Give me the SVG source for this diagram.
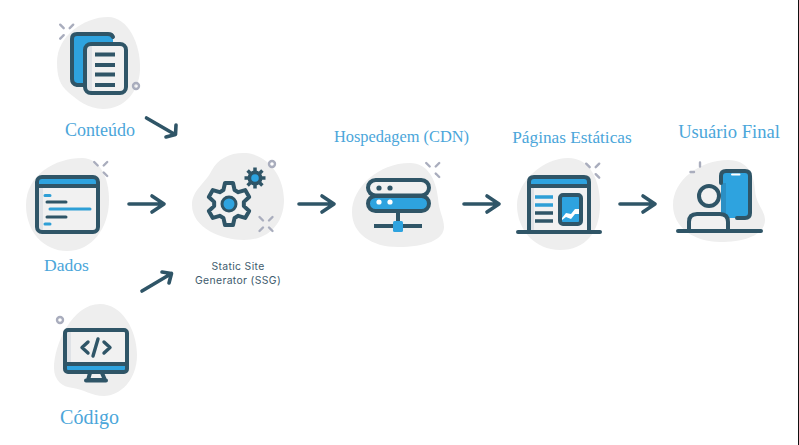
<svg xmlns="http://www.w3.org/2000/svg" width="799" height="445" viewBox="0 0 799 445">
<style>
.blob{fill:#eeeeee}
.d{fill:none;stroke:#2f5567;stroke-width:4;stroke-linecap:round;stroke-linejoin:round}
.fb{fill:#2ea3df}
.fl{fill:#f1f1f1}
.sh{fill:#dfe2e6}
.bl{fill:none;stroke:#2e9fd6;stroke-width:3;stroke-linecap:round}
.dl{fill:none;stroke:#2f5567;stroke-width:3;stroke-linecap:round}
.sp{fill:none;stroke:#a9adbd;stroke-width:2.4;stroke-linecap:round}
.ring{fill:none;stroke:#a9adbd;stroke-width:2.4}
.lab{font-family:"Liberation Serif",serif;fill:#4ba6da;text-anchor:middle}
.ssg{font-family:Inter,"Liberation Sans",sans-serif;font-size:10.400px;letter-spacing:.35px;fill:#3d5a6c;text-anchor:middle}
.arrow{fill:none;stroke:#2f5567;stroke-width:3.600;stroke-linecap:round;stroke-linejoin:round}
</style>
<defs>
<path id="sTL" d="M-3-3.500L-6.500-7"/><path id="sTR" d="M3-3.500L6.500-7"/><path id="sBL" d="M-3 3.500L-6.500 7"/><path id="sBR" d="M3 3.500L6.500 7"/>
<path id="ah" d="M0 0H35M23-8L35 0L23 8"/>
</defs>
<rect x="798" y="0" width="1" height="445" fill="#111"/>
<g id="conteudo">
<path class="blob" d="M57 62C57 36 84 17 108 17C128 17 141 44 140 70C139 92 124 109 103 109C88 109 76 99 68 92C60 85 57 77 57 62Z"/>
<g class="sp" transform="translate(66.700 31.700)"><use href="#sTL"/><use href="#sTR"/><use href="#sBL"/></g>
<circle class="ring" cx="136" cy="86" r="3"/>
<path class="fb" d="M72 39Q72 34 77 34H108Q113 34 113 39V84H77Q72 84 72 79Z"/>
<path class="d" d="M113 37Q112 34 108 34H77Q72 34 72 39V79Q72 84 77 85H84"/>
<rect class="fl" x="85" y="44" width="41" height="49" rx="6"/>
<rect class="sh" x="86" y="45" width="6" height="47"/>
<rect x="85" y="44" width="41" height="49" rx="6" class="d"/>
<path class="dl" style="stroke-linecap:butt;stroke-width:4" d="M95 54.500H115M95 65H115M95 74.500H115M95 85H115"/>
<text class="lab" x="100" y="136" font-size="18">Conteúdo</text>
</g>
<g id="dados">
<path class="blob" d="M26 205C26 175 55 158 82 158C100 158 109 178 109 200C109 228 92 251 67 251C44 251 26 232 26 205Z"/>
<g class="sp" transform="translate(100.700 169)"><use href="#sTL"/><use href="#sTR"/><use href="#sBR"/></g>
<rect class="fl" x="37" y="177" width="61" height="55" rx="5"/>
<rect class="sh" x="38" y="186" width="5" height="45"/>
<path class="fb" d="M38 186V183Q38 178 43 178H92Q97 178 97 183V186Z"/>
<rect class="d" x="37" y="177" width="61" height="55" rx="5"/>
<path class="dl" style="stroke-width:4" d="M38 186H97"/>
<path class="bl" d="M45 195.500H50M50 209H90M45 224H50"/>
<path class="dl" d="M47 202H66M47 217H66"/>
<text class="lab" x="66.500" y="270.500" font-size="17.600">Dados</text>
</g>
<g id="codigo">
<path class="blob" d="M54 368C54 345 72 304 100 304C122 304 137 330 137 355C137 380 120 396 104 396C92 396 83 389 73 388C62 387 54 380 54 368Z"/>
<circle class="ring" cx="60" cy="320" r="3"/>
<path class="fl" d="M90 372H102L105 379H87Z"/>
<path class="d" d="M90 373L88 380H105L102 373M86 380.500H106"/>
<rect class="fl" x="65" y="330" width="62" height="42" rx="3"/>
<rect class="sh" x="66" y="331" width="5" height="33"/>
<rect class="fb" x="65" y="364" width="62" height="8"/>
<rect class="d" x="65" y="330" width="62" height="42" rx="3"/>
<path class="d" d="M65.500 364H126.500"/>
<path class="d" style="stroke-width:3.400" d="M88 342L82 347.500L88 353M104 342L110 347.500L104 353M98 339L93 356"/>
<text class="lab" x="89.500" y="423.500" font-size="20">Código</text>
</g>
<g id="ssg">
<path class="blob" d="M192 205C192 190 205 184 212 170C218 158 232 152 246 153C268 155 284 176 284 200C284 222 270 240 244 240C222 240 192 228 192 205Z"/>
<circle class="ring" cx="272" cy="164" r="3"/>
<g class="sp" transform="translate(266 224)"><use href="#sTL"/><use href="#sTR"/><use href="#sBL"/><use href="#sBR"/></g>
<path class="d" style="fill:#f1f1f1" transform="translate(229 204)" d="M-5.600-13.900L-4-21H4L5.600-13.900L9.240-11.800L16.190-13.960L20.190-7.040L14.840-2.100V2.100L20.190 7.040L16.190 13.960L9.240 11.800L5.600 13.900L4 21H-4L-5.600 13.900L-9.240 11.800L-16.190 13.960L-20.190 7.040L-14.840 2.100V-2.100L-20.190-7.040L-16.190-13.960L-9.240-11.800Z"/>
<circle cx="229" cy="204" r="7" class="fb" stroke="#2f5567" stroke-width="3"/>
<g transform="translate(255 178)">
<circle r="7.500" fill="#2f5567"/>
<path d="M0-10.500V10.500M-10.500 0H10.500M-7.400-7.400L7.400 7.400M-7.400 7.400L7.400-7.400" stroke="#2f5567" stroke-width="3.500" fill="none"/>
<circle r="3.800" class="fb"/>
</g>
<text class="ssg" x="238" y="270">Static Site</text>
<text class="ssg" x="238" y="284">Generator (SSG)</text>
</g>
<g id="hospedagem">
<path class="blob" d="M352 212C352 188 378 163 410 163C428 163 436 180 438 198C439 212 444 218 444 227C444 240 425 247 398 247C372 247 352 234 352 212Z"/>
<g class="sp" transform="translate(432.700 170)"><use href="#sTL"/><use href="#sTR"/><use href="#sBR"/></g>
<rect class="fl" x="368" y="180" width="61" height="15.500" rx="7.700" stroke="#2f5567" stroke-width="4"/>
<rect class="fb" x="368" y="196" width="61" height="15" rx="7.500" stroke="#2f5567" stroke-width="4"/>
<circle cx="379" cy="188" r="2.600" fill="#2f5567"/><circle cx="390" cy="188" r="2.600" fill="#2f5567"/>
<circle cx="379" cy="202" r="2.600" fill="#fff"/><circle cx="390" cy="202" r="2.600" fill="#fff"/>
<path class="d" style="stroke-linecap:butt" d="M398 212V226M374 226H422"/>
<rect class="fb" x="393" y="221" width="10" height="11" rx="1.500"/>
<text class="lab" x="401.500" y="142" font-size="16.400">Hospedagem (CDN)</text>
</g>
<g id="paginas">
<path class="blob" d="M517 205C517 180 545 158 568 158C590 158 600 180 600 205C600 232 585 250 560 250C535 250 517 230 517 205Z"/>
<g class="sp" transform="translate(592.700 170.700)"><use href="#sTL"/><use href="#sTR"/><use href="#sBR"/></g>
<path class="fl" d="M529 186H589V231H529Z"/>
<rect class="sh" x="530" y="187" width="4" height="44"/>
<path class="fb" d="M529 186V182Q529 177 534 177H584Q589 177 589 182V186Z"/>
<path class="d" d="M529 231V182Q529 177 534 177H584Q589 177 589 182V231M529 186H589M518 232H600"/>
<path class="bl" style="stroke-linecap:butt;stroke-width:3.400" d="M535 197H553M535 205H553"/>
<path class="dl" style="stroke-linecap:butt;stroke-width:3.400" d="M535 213H553M535 221H553"/>
<rect class="fb" x="560" y="195" width="21" height="29" rx="3" stroke="#2f5567" stroke-width="4"/>
<path fill="#fff" d="M562 218L566 213L571 214L575 209L579 209V214L575 214L571 219L566 217L562 220Z"/>
<text class="lab" x="572" y="143" font-size="17.300">Páginas Estáticas</text>
</g>
<g id="usuario">
<path class="blob" d="M673 205C673 180 700 160 728 160C748 160 754 175 755 190C756 205 765 210 765 220C765 235 745 242 720 242C695 242 673 228 673 205Z"/>
<path class="sp" d="M700 162.500V166.500M690.500 172H694"/>
<path class="fb" d="M721 176Q721 171 726 171H745Q750 171 750 176V213Q750 218 745 218H721Z"/>
<rect x="721" y="183" width="5" height="35" fill="#2b8fc4"/>
<path class="d" d="M721 183V176Q721 171 726 171H745Q750 171 750 176V213Q750 218 745 218H737"/>
<path d="M732 174.500H739.500" stroke="#fff" stroke-width="2" stroke-linecap="round"/>
<path fill="#f1f1f1" d="M689 230V222Q689 214 697 214H720Q728 214 728 222V230Z"/>
<path class="d" d="M689 230V222Q689 214 697 214H720Q728 214 728 222V230M678 231H761"/>
<circle cx="709" cy="196" r="10" class="fl" stroke="#2f5567" stroke-width="4"/>
<text class="lab" x="729" y="137.500" font-size="18.600">Usuário Final</text>
</g>
<g id="connectors" class="arrow">
<path d="M146.500 118L175 134.500M176 125L175.500 134.500L166 137"/>
<use href="#ah" x="129" y="204"/>
<path d="M142 291L171.500 273.500M162 272L171.500 273.500L169 283"/>
<use href="#ah" x="299" y="204"/>
<use href="#ah" x="464" y="204"/>
<use href="#ah" x="620" y="204"/>
</g>
</svg>
